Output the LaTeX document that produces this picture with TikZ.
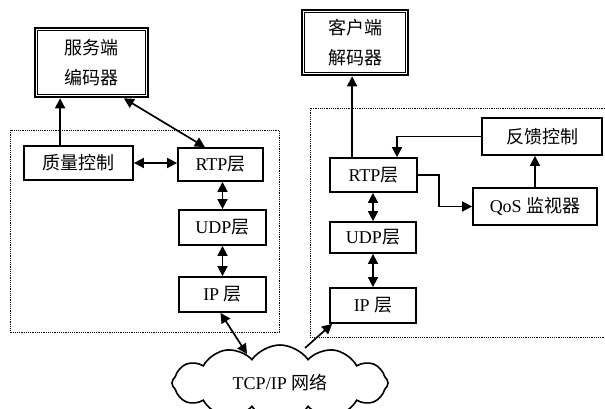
\documentclass[tikz,border=0pt]{standalone}
\usepackage{fontspec}
\setmainfont{Liberation Serif}
\newfontfamily\cjk{Noto Sans CJK SC}
\usetikzlibrary{arrows.meta,shapes.symbols,calc}
\begin{document}
\begin{tikzpicture}[x=1pt,y=-1pt,
  box/.style={draw, line width=1.8pt, inner sep=0pt, font=\fontsize{18}{22}\selectfont},
  bigbox/.style={draw, line width=2.6pt, inner sep=0pt, align=center, font=\cjk\fontsize{18}{30}\selectfont},
  arr/.style={line width=1.7pt, -{Triangle[length=10pt,width=10pt]}},
  darr/.style={line width=1.7pt, {Triangle[length=10pt,width=10pt]}-{Triangle[length=10pt,width=10pt]}},
  region/.style={line width=0.9pt, dash pattern=on 1.2pt off 1pt}]
\useasboundingbox (0,0) rectangle (605,409);
\clip (0,0) rectangle (605,409);

% dotted regions
\draw[region] (10,130) rectangle (279,332);
\draw[region] (310,108) rectangle (620,337);

% left side
\node[bigbox, minimum width=113pt, minimum height=69pt] (enc) at (91.5,62.5) {服务端\\编码器};
\draw[line width=1pt] ([shift={(3.5,3.5)}]enc.north west) rectangle ([shift={(-3.5,-3.5)}]enc.south east);
\node[box, minimum width=109pt, minimum height=34pt] (qc) at (78.5,163) {\cjk 质量控制};
\node[box, minimum width=85pt, minimum height=33pt] (rtpL) at (220.5,164.5) {RTP{\cjk 层}};
\node[box, minimum width=87pt, minimum height=35pt] (udpL) at (222.5,227.5) {UDP{\cjk 层}};
\node[box, minimum width=87pt, minimum height=35pt] (ipL) at (222.5,294.5) {IP {\cjk 层}};

% right side
\node[bigbox, minimum width=106pt, minimum height=65pt] (dec) at (355,42.5) {客户端\\解码器};
\draw[line width=1pt] ([shift={(3.5,3.5)}]dec.north west) rectangle ([shift={(-3.5,-3.5)}]dec.south east);
\node[box, minimum width=120pt, minimum height=37pt] (fb) at (542,136.5) {\cjk 反馈控制};
\node[box, minimum width=87pt, minimum height=34pt] (rtpR) at (373.5,175) {RTP{\cjk 层}};
\node[box, minimum width=86pt, minimum height=31pt] (udpR) at (373,237.5) {UDP{\cjk 层}};
\node[box, minimum width=86pt, minimum height=35pt] (ipR) at (373,305.5) {IP {\cjk 层}};
\node[box, minimum width=124pt, minimum height=37pt] (qos) at (535,206.5) {QoS {\cjk 监视器}};

% cloud
\node[cloud, draw, line width=1.6pt, cloud puffs=12, cloud puff arc=110, cloud ignores aspect,
      minimum width=216pt, minimum height=76pt, inner sep=0pt, font=\fontsize{18}{22}\selectfont]
      (net) at (280,383) {TCP/IP {\cjk 网络}};
\coordinate (n1) at (247,354);
\coordinate (n2) at (305,348);

% left connectors
\path (qc.north west) ++(37,0) coordinate (a1);
\draw[arr] (a1) -- (a1 |- enc.south);
\draw[darr] ($(enc.south west)!0.78!(enc.south east)$) -- ($(rtpL.north west)!0.32!(rtpL.north east)$);
\draw[darr] (qc.east) -- (qc.east -| rtpL.west);
\draw[darr] (udpL.north) -- (udpL.north |- rtpL.south);
\draw[darr] (udpL.south) -- (ipL.north);
\draw[darr] ([xshift=-2pt]ipL.south) -- (n1);

% right connectors
\path (rtpR.north west) ++(23,0) coordinate (b1);
\draw[arr] (b1) -- (b1 |- dec.south);
\draw[arr] (fb.west) -| ([xshift=23.5pt]rtpR.north);
\draw[arr] (qos.north) -- (qos.north |- fb.south);
\draw[arr] (rtpR.east) -- ++(21,0) |- (qos.west);
\draw[darr] (udpR.north) -- (udpR.north |- rtpR.south);
\draw[darr] (udpR.south) -- (ipR.north);
\draw[arr] (n2) -- ([xshift=3pt]ipR.south west);
\end{tikzpicture}
\end{document}
